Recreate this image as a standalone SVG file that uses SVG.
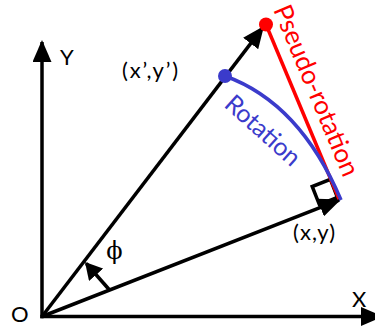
<svg xmlns="http://www.w3.org/2000/svg" width="375" height="334" viewBox="0 0 375 334">
  <style>
    .ln { stroke: #000; stroke-width: 3.5; fill: none; }
    .lbl { font-family: Lato, "Liberation Sans", sans-serif; font-size: 22px; fill: #000; }
    .red { stroke: #ff0000; stroke-width: 3.5; fill: none; }
    .blue { stroke: #3b3bcb; stroke-width: 3.5; fill: none; }
  </style>
  <defs>
    <marker id="ah" markerUnits="userSpaceOnUse" markerWidth="22" markerHeight="19" viewBox="0 0 22 19" refX="20" refY="9.5" orient="auto">
      <path d="M0,0 L22,9.5 L0,19 z" fill="#000"/>
    </marker>
    <marker id="ahs" markerUnits="userSpaceOnUse" markerWidth="17" markerHeight="19" viewBox="0 0 17 19" refX="15" refY="9.5" orient="auto">
      <path d="M0,0 L17,9.5 L0,19 z" fill="#000"/>
    </marker>
  </defs>
  <rect width="375" height="334" fill="#fff"/>

  <g id="connectors">
    <line id="y-axis" class="ln" x1="42" y1="318.2" x2="42" y2="42" marker-end="url(#ah)"/>
    <line id="x-axis" class="ln" x1="40.3" y1="316.5" x2="381" y2="316.5" marker-end="url(#ah)"/>
    <polygon id="right-angle" points="337.5,197.5 319.35,204.6 312.2,186.5 330.4,179.3" class="ln"/>
    <line id="vec-xy" class="ln" x1="42" y1="316.5" x2="339.1" y2="200.2" marker-end="url(#ah)"/>
    <line id="vec-xpyp" class="ln" x1="42" y1="316.5" x2="262.8" y2="27.6" marker-end="url(#ah)"/>
    <line id="phi-arrow" class="ln" x1="109.5" y1="290" x2="86.3" y2="263.5" marker-end="url(#ahs)"/>
    <line id="pseudo-rotation" class="red" x1="266" y1="24.5" x2="339" y2="199"/>
    <path id="rotation" class="blue" d="M225,76 Q300,103 341,200"/>
  </g>

  <g id="point-pseudo">
    <circle cx="266" cy="24.5" r="7" fill="#ff0000"/>
  </g>
  <g id="point-rotated">
    <circle cx="225" cy="76" r="7" fill="#3b3bcb"/>
  </g>

  <g id="labels">
    <text class="lbl" x="60" y="65">Y</text>
    <text class="lbl" x="352" y="307">X</text>
    <text class="lbl" x="11" y="322">O</text>
    <text class="lbl" x="122" y="78" textLength="56" lengthAdjust="spacing">(x’,y’)</text>
    <text class="lbl" x="293" y="240" textLength="42" lengthAdjust="spacing">(x,y)</text>
    <text x="114.5" y="259" text-anchor="middle" font-family="'DejaVu Serif', 'Liberation Serif', serif" font-size="24" fill="#000">ϕ</text>
    <text transform="translate(273,9.5) rotate(67.35)" font-family="Lato, 'Liberation Sans', sans-serif" font-size="26" fill="#ff0000" textLength="183" lengthAdjust="spacing">Pseudo-rotation</text>
    <text transform="translate(223,106) rotate(42)" font-family="Lato, 'Liberation Sans', sans-serif" font-size="25" fill="#3b3bcb" textLength="92" lengthAdjust="spacing">Rotation</text>
  </g>
</svg>
